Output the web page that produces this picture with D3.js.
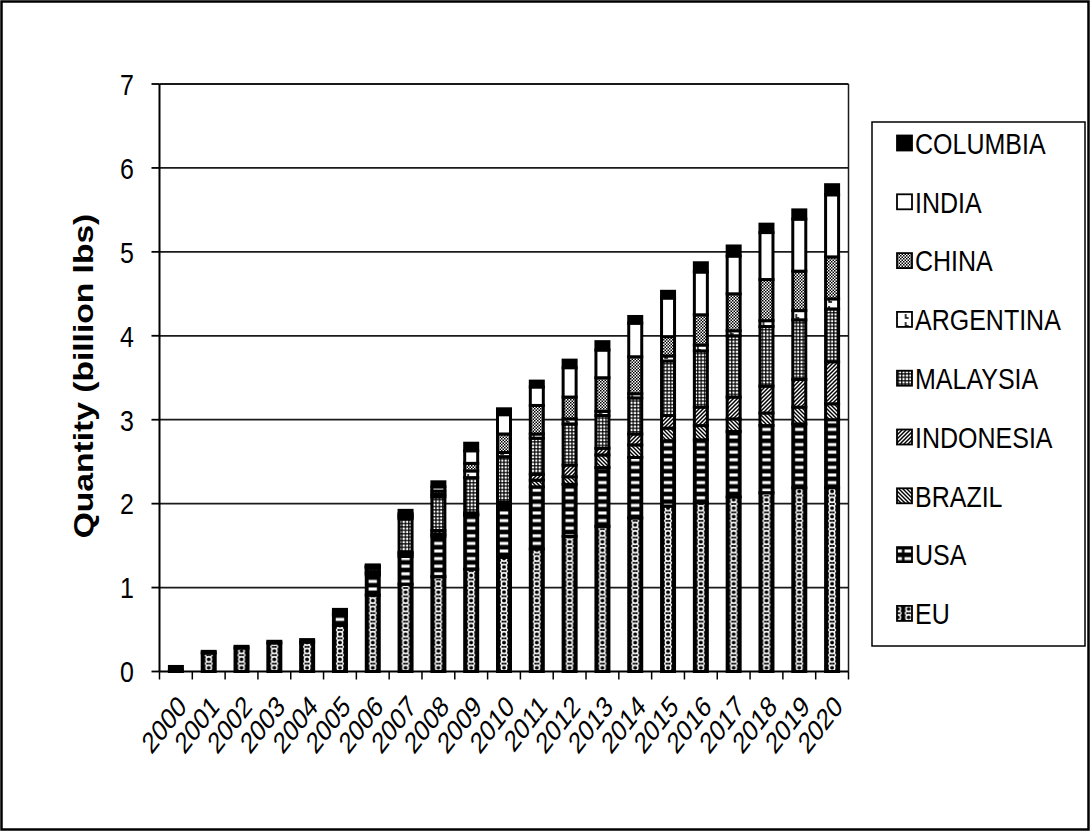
<!DOCTYPE html>
<html>
<head>
<meta charset="utf-8">
<script src="https://cdn.jsdelivr.net/npm/d3@7/dist/d3.min.js"></script>
<style>
  html, body { margin: 0; padding: 0; background: #fff; }
  svg { display: block; }
  text { font-family: "Liberation Sans", Arial, Helvetica, sans-serif; fill: #000; }
</style>
</head>
<body>
<svg id="chart" width="1091" height="832"></svg>
<script>
// Biodiesel production by region, billion lbs
const years = ["2000","2001","2002","2003","2004","2005","2006","2007","2008","2009","2010",
               "2011","2012","2013","2014","2015","2016","2017","2018","2019","2020"];
const EU        = [0.01,0.22,0.28,0.34,0.35,0.55,0.91,1.04,1.13,1.22,1.36,1.46,1.61,1.73,1.83,1.97,2.01,2.08,2.13,2.19,2.19];
const USA       = [0.05,0.02,0.02,0.02,0.03,0.12,0.24,0.33,0.48,0.64,0.60,0.74,0.62,0.70,0.72,0.78,0.75,0.78,0.80,0.76,0.81];
const BRAZIL    = [0,0,0,0,0,0.01,0.02,0.03,0.03,0.01,0.03,0.08,0.09,0.15,0.15,0.15,0.17,0.15,0.15,0.20,0.19];
const INDONESIA = [0,0,0,0,0,0.01,0.02,0.02,0.04,0.02,0.03,0.07,0.14,0.08,0.13,0.15,0.22,0.26,0.32,0.33,0.50];
const MALAYSIA  = [0,0,0,0,0,0.03,0.04,0.40,0.40,0.42,0.54,0.43,0.49,0.39,0.43,0.65,0.67,0.73,0.71,0.71,0.63];
const ARGENTINA = [0,0,0,0,0,0,0.01,0.02,0.03,0.08,0.05,0.05,0.06,0.05,0.05,0.06,0.07,0.06,0.07,0.11,0.12];
const CHINA     = [0,0,0,0,0,0,0.01,0.02,0.04,0.09,0.22,0.34,0.26,0.40,0.44,0.23,0.36,0.44,0.49,0.47,0.50];
const INDIA     = [0,0,0,0,0,0,0.01,0.02,0.05,0.15,0.23,0.22,0.35,0.33,0.40,0.46,0.51,0.45,0.56,0.62,0.74];
const COLUMBIA  = [0,0,0,0,0,0.02,0.01,0.04,0.06,0.09,0.07,0.07,0.09,0.10,0.08,0.08,0.11,0.12,0.10,0.11,0.12];

const seriesNames = ["EU","USA","BRAZIL","INDONESIA","MALAYSIA","ARGENTINA","CHINA","INDIA","COLUMBIA"];
const seriesValues = [EU,USA,BRAZIL,INDONESIA,MALAYSIA,ARGENTINA,CHINA,INDIA,COLUMBIA];
const yTicks = [0,1,2,3,4,5,6,7];
const yTitle = "Quantity (billion lbs)";

const rows = years.map((yr, i) => {
  const r = { year: yr };
  seriesNames.forEach((s, j) => r[s] = seriesValues[j][i]);
  return r;
});

const svg = d3.select("#chart");
const SY = 1.2;               // vertical stretch applied to all lettering
const plot = { left: 159.5, right: 848.5, top: 84, bottom: 671.5 };

const x = d3.scaleBand().domain(years).range([plot.left, plot.right]).padding(0);
const y = d3.scaleLinear().domain([0, 7]).range([plot.bottom, plot.top]);

const step = x.step();
const barW = 13, barStroke = 3;
const barOff = (step - barW) / 2;
const tileW = step / 3;
const innerLeft0 = x(years[0]) + barOff + barStroke / 2;

// ---- fill patterns ----
const defs = svg.append("defs");
function pattern(id, w, h, xo) {
  return defs.append("pattern").attr("id", id)
    .attr("patternUnits", "userSpaceOnUse")
    .attr("width", w).attr("height", h)
    .attr("x", xo || 0).attr("y", 0);
}
// EU: chain of white rings on black
{
  const p = pattern("p-EU", tileW, 8.4, innerLeft0);
  p.append("rect").attr("width", tileW).attr("height", 8.4).attr("fill", "#000");
  p.append("circle").attr("cx", 5).attr("cy", 4.2).attr("r", 2.7)
    .attr("fill", "none").attr("stroke", "#fff").attr("stroke-width", 1.5);
  p.append("path").attr("d", "M1.2,0.2L3,1.6M8.8,0.2L7,1.6M1.2,8.2L3,6.8M8.8,8.2L7,6.8")
    .attr("stroke", "#fff").attr("stroke-width", 1.3);
}
// USA: white horizontal dashes on black
{
  const p = pattern("p-USA", tileW, 7.6, innerLeft0);
  p.append("rect").attr("width", tileW).attr("height", 7.6).attr("fill", "#000");
  p.append("rect").attr("x", 0.8).attr("y", 2.3).attr("width", 8.4).attr("height", 3).attr("fill", "#fff");
}
// BRAZIL: dark downward diagonal
{
  const p = pattern("p-BRAZIL", 4, 4);
  p.append("rect").attr("width", 4).attr("height", 4).attr("fill", "#000");
  p.append("path").attr("d", "M0,0L4,4M-1,3L1,5M3,-1L5,1")
    .attr("stroke", "#fff").attr("stroke-width", 1.4);
}
// INDONESIA: light upward diagonal
{
  const p = pattern("p-INDONESIA", 4, 4);
  p.append("rect").attr("width", 4).attr("height", 4).attr("fill", "#fff");
  p.append("path").attr("d", "M0,4L4,0M-1,1L1,-1M3,5L5,3")
    .attr("stroke", "#000").attr("stroke-width", 1.5);
}
// MALAYSIA: coarse checker
{
  const p = pattern("p-MALAYSIA", 3.4, 3.4, innerLeft0);
  p.append("rect").attr("width", 3.4).attr("height", 3.4).attr("fill", "#000");
  p.append("rect").attr("x", 0.5).attr("y", 0.5).attr("width", 2.2).attr("height", 2.2).attr("fill", "#fff");
}
// CHINA: fine checker
{
  const p = pattern("p-CHINA", 3, 3);
  p.append("rect").attr("width", 3).attr("height", 3).attr("fill", "#fff");
  p.append("rect").attr("width", 1.5).attr("height", 1.5).attr("fill", "#000");
  p.append("rect").attr("x", 1.5).attr("y", 1.5).attr("width", 1.5).attr("height", 1.5).attr("fill", "#000");
}
// ARGENTINA: sparse marks on white
{
  const p = pattern("p-ARGENTINA", tileW, 8, innerLeft0);
  p.append("rect").attr("width", tileW).attr("height", 8).attr("fill", "#fff");
  p.append("path").attr("d", "M2,2V6H5").attr("fill", "none").attr("stroke", "#000").attr("stroke-width", 1.5);
}
// INDIA: plain white; COLUMBIA: solid black
const fillOf = s => s === "INDIA" ? "#fff" : s === "COLUMBIA" ? "#000" : `url(#p-${s})`;

// ---- outer frame ----
svg.append("rect").attr("x", 1.5).attr("y", 1.5).attr("width", 1087).attr("height", 828)
  .attr("fill", "#fff").attr("stroke", "#000").attr("stroke-width", 2.5);

// ---- gridlines ----
svg.append("g").selectAll("line").data(yTicks.filter(t => t > 0)).join("line")
  .attr("x1", plot.left).attr("x2", plot.right)
  .attr("y1", d => y(d)).attr("y2", d => y(d))
  .attr("stroke", "#1a1a1a").attr("stroke-width", 1.8);
svg.append("line").attr("x1", plot.right).attr("x2", plot.right)
  .attr("y1", y(7)).attr("y2", y(0)).attr("stroke", "#1a1a1a").attr("stroke-width", 1.5);

// ---- stacked bars ----
const stacked = d3.stack().keys(seriesNames)(rows);
const gBars = svg.append("g");
stacked.forEach(layer => {
  gBars.append("g").selectAll("rect")
    .data(layer.filter(d => d[1] - d[0] > 0))
    .join("rect")
    .attr("x", d => x(d.data.year) + barOff)
    .attr("width", barW)
    .attr("y", d => y(d[1]))
    .attr("height", d => y(d[0]) - y(d[1]))
    .attr("fill", fillOf(layer.key))
    .attr("stroke", "#000").attr("stroke-width", barStroke);
});

// ---- axes ----
const gY = svg.append("g");
gY.append("line").attr("x1", plot.left).attr("x2", plot.left)
  .attr("y1", y(7)).attr("y2", y(0)).attr("stroke", "#000").attr("stroke-width", 2);
gY.selectAll("line.tick").data(yTicks).join("line").attr("class", "tick")
  .attr("x1", plot.left - 8).attr("x2", plot.left)
  .attr("y1", d => y(d)).attr("y2", d => y(d))
  .attr("stroke", "#000").attr("stroke-width", 1.8);
gY.selectAll("text").data(yTicks).join("text")
  .attr("transform", d => `translate(134,${y(d)}) scale(1,${SY})`)
  .attr("text-anchor", "end").attr("dy", "0.36em")
  .style("font-size", "25px")
  .text(d => d);

const gX = svg.append("g");
gX.append("line").attr("x1", plot.left).attr("x2", plot.right)
  .attr("y1", y(0)).attr("y2", y(0)).attr("stroke", "#000").attr("stroke-width", 2);
gX.selectAll("line.tick").data(d3.range(years.length + 1)).join("line").attr("class", "tick")
  .attr("x1", i => plot.left + i * step).attr("x2", i => plot.left + i * step)
  .attr("y1", y(0)).attr("y2", y(0) + 8)
  .attr("stroke", "#000").attr("stroke-width", 1.5);
gX.selectAll("text").data(years).join("text")
  .attr("transform", d => `translate(${x(d) + step / 2 + 6},${y(0) + 29}) scale(1,1.3) rotate(-45)`)
  .attr("text-anchor", "end").attr("dy", "0.36em")
  .style("font-size", "23px")
  .text(d => d);

// ---- y axis title ----
svg.append("text")
  .attr("transform", `translate(83,376) scale(1,${SY}) rotate(-90)`)
  .attr("text-anchor", "middle").attr("dy", "0.36em")
  .style("font-size", "28px").style("font-weight", "bold")
  .text(yTitle);

// ---- legend ----
const legendOrder = seriesNames.slice().reverse();
const gL = svg.append("g");
gL.append("rect").attr("x", 872).attr("y", 122).attr("width", 213).attr("height", 524)
  .attr("fill", "#fff").attr("stroke", "#000").attr("stroke-width", 1.5);
legendOrder.forEach((s, i) => {
  const cy = 143 + i * 58.8;
  gL.append("rect").attr("x", 897).attr("y", cy - 7.5).attr("width", 15).attr("height", 15)
    .attr("fill", fillOf(s)).attr("stroke", "#000").attr("stroke-width", 1.8);
  gL.append("text")
    .attr("transform", `translate(915,${cy}) scale(1,${SY})`)
    .attr("dy", "0.36em")
    .style("font-size", "25px")
    .text(s);
});
</script>
</body>
</html>
